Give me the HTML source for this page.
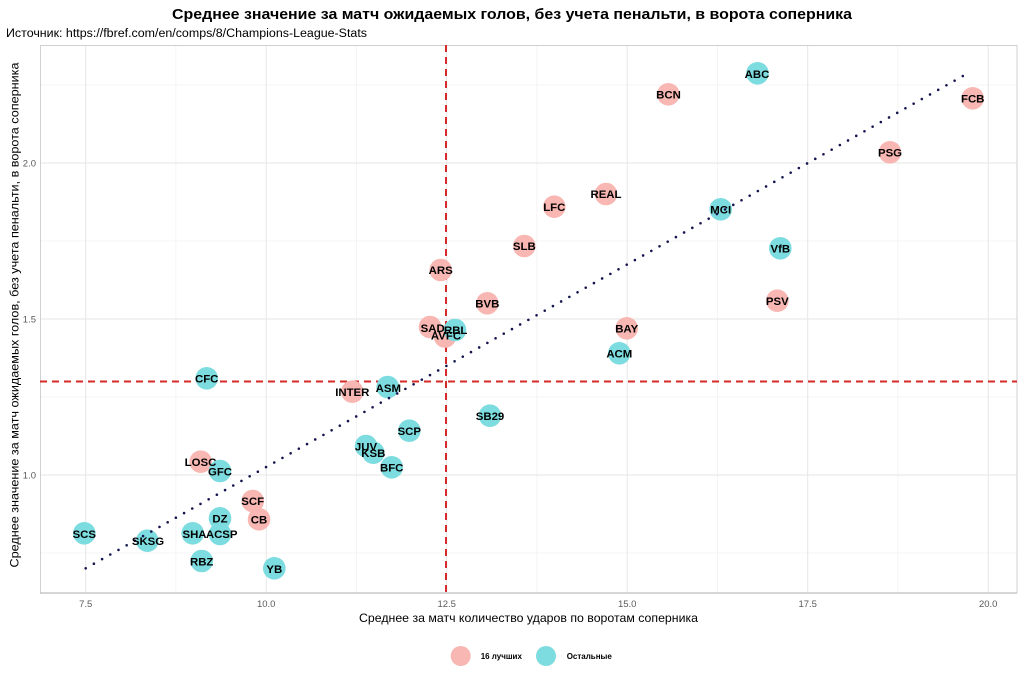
<!DOCTYPE html>
<html>
<head>
<meta charset="utf-8">
<style>
html,body{margin:0;padding:0;background:#fff;}
svg{display:block;}
text{font-family:"Liberation Sans",Arial,sans-serif;}
.lbl{font-size:11.4px;font-weight:bold;fill:#000;text-anchor:middle;}
.tick{font-size:9.5px;fill:#5a5a5a;}
</style>
</head>
<body>
<svg width="1024" height="683" viewBox="0 0 1024 683" xmlns="http://www.w3.org/2000/svg">
<rect width="1024" height="683" fill="#fff"/>
<!-- title -->
<text x="512" y="19" text-anchor="middle" font-size="14.5" font-weight="bold" textLength="680" lengthAdjust="spacingAndGlyphs">Среднее значение за матч ожидаемых голов, без учета пенальти, в ворота соперника</text>
<text x="6" y="37" font-size="11.5" fill="#000" textLength="361" lengthAdjust="spacingAndGlyphs">Источник: https://fbref.com/en/comps/8/Champions-League-Stats</text>

<!-- minor grid -->
<g stroke="#f2f2f2" stroke-width="0.8">
<line x1="175.9" y1="45" x2="175.9" y2="593"/>
<line x1="356.4" y1="45" x2="356.4" y2="593"/>
<line x1="536.9" y1="45" x2="536.9" y2="593"/>
<line x1="717.4" y1="45" x2="717.4" y2="593"/>
<line x1="897.9" y1="45" x2="897.9" y2="593"/>
<line x1="40" y1="553" x2="1017" y2="553"/>
<line x1="40" y1="397" x2="1017" y2="397"/>
<line x1="40" y1="241" x2="1017" y2="241"/>
<line x1="40" y1="85" x2="1017" y2="85"/>
</g>
<!-- major grid -->
<g stroke="#e6e6e6" stroke-width="1">
<line x1="85.7" y1="45" x2="85.7" y2="593"/>
<line x1="266.2" y1="45" x2="266.2" y2="593"/>
<line x1="446.7" y1="45" x2="446.7" y2="593"/>
<line x1="627.2" y1="45" x2="627.2" y2="593"/>
<line x1="807.7" y1="45" x2="807.7" y2="593"/>
<line x1="988.2" y1="45" x2="988.2" y2="593"/>
<line x1="40" y1="475" x2="1017" y2="475"/>
<line x1="40" y1="319" x2="1017" y2="319"/>
<line x1="40" y1="163" x2="1017" y2="163"/>
</g>
<!-- panel border -->
<rect x="40.5" y="45.5" width="976.5" height="547.5" fill="none" stroke="#d0d0d0" stroke-width="1"/>
<line x1="40" y1="593" x2="1017" y2="593" stroke="#bdbdbd" stroke-width="1.2"/>

<!-- red dashed lines -->
<g stroke="#d42a2a" stroke-width="2" stroke-dasharray="7 5" fill="none">
<line x1="40" y1="381.5" x2="1017" y2="381.5"/>
<line x1="446" y1="45" x2="446" y2="593"/>
</g>

<!-- points -->
<g>
<!-- pink -->
<g fill="#f8b7b2">
<circle cx="668.3" cy="94.3" r="11.3"/>
<circle cx="972.7" cy="98.3" r="11.3"/>
<circle cx="890" cy="152.3" r="11.3"/>
<circle cx="606" cy="194" r="11.3"/>
<circle cx="554.3" cy="206.7" r="11.3"/>
<circle cx="524.3" cy="246" r="11.3"/>
<circle cx="777.3" cy="300.7" r="11.3"/>
<circle cx="440.7" cy="270" r="11.3"/>
<circle cx="487.3" cy="303.3" r="11.3"/>
<circle cx="430" cy="327" r="11.3"/>
<circle cx="445" cy="336.5" r="11.3"/>
<circle cx="626.7" cy="328.3" r="11.3"/>
<circle cx="352.3" cy="391.7" r="11.3"/>
<circle cx="200.7" cy="461.7" r="11.3"/>
<circle cx="252.7" cy="501" r="11.3"/>
<circle cx="259" cy="519.3" r="11.3"/>
</g>
<!-- cyan -->
<g fill="#7ddcdf">
<circle cx="757.5" cy="73.3" r="11.3"/>
<circle cx="720.7" cy="209.3" r="11.3"/>
<circle cx="780.3" cy="248.3" r="11.3"/>
<circle cx="455" cy="330" r="11.3"/>
<circle cx="619.3" cy="353.3" r="11.3"/>
<circle cx="387.7" cy="387" r="11.3"/>
<circle cx="490" cy="415.7" r="11.3"/>
<circle cx="206.7" cy="378.3" r="11.3"/>
<circle cx="409.3" cy="430.7" r="11.3"/>
<circle cx="366" cy="446" r="11.3"/>
<circle cx="373.3" cy="452.7" r="11.3"/>
<circle cx="391.7" cy="467.3" r="11.3"/>
<circle cx="220" cy="471" r="11.3"/>
<circle cx="220" cy="518.3" r="11.3"/>
<circle cx="192.7" cy="533.3" r="11.3"/>
<circle cx="220" cy="534" r="11.3"/>
<circle cx="84.3" cy="533.3" r="11.3"/>
<circle cx="147.3" cy="540.7" r="11.3"/>
<circle cx="201.7" cy="561" r="11.3"/>
<circle cx="274.3" cy="568.3" r="11.3"/>
</g>
</g>

<!-- dotted trend line -->
<line x1="85.7" y1="568.3" x2="967.7" y2="73.3" stroke="#15154f" stroke-width="2.6" stroke-linecap="round" stroke-dasharray="0 9.4"/>

<!-- labels -->
<g class="lbl">
<text class="lbl" x="757" y="78">ABC</text>
<text class="lbl" x="668.5" y="98.5">BCN</text>
<text class="lbl" x="972.7" y="102.5">FCB</text>
<text class="lbl" x="890" y="156.5">PSG</text>
<text class="lbl" x="606" y="198">REAL</text>
<text class="lbl" x="554.3" y="211">LFC</text>
<text class="lbl" x="720.7" y="213.5">MCI</text>
<text class="lbl" x="524.3" y="250">SLB</text>
<text class="lbl" x="780.3" y="252.5">VfB</text>
<text class="lbl" x="777.3" y="305">PSV</text>
<text class="lbl" x="440.7" y="274">ARS</text>
<text class="lbl" x="487.3" y="307.5">BVB</text>
<text class="lbl" x="432.7" y="332">SAD</text>
<text class="lbl" x="455.7" y="334">RBL</text>
<text class="lbl" x="446" y="339.5">AVFC</text>
<text class="lbl" x="626.7" y="332.5">BAY</text>
<text class="lbl" x="619.3" y="357.5">ACM</text>
<text class="lbl" x="352.3" y="396">INTER</text>
<text class="lbl" x="388.3" y="392">ASM</text>
<text class="lbl" x="490" y="420">SB29</text>
<text class="lbl" x="206.7" y="382.5">CFC</text>
<text class="lbl" x="409.3" y="435">SCP</text>
<text class="lbl" x="366" y="450.5">JUV</text>
<text class="lbl" x="373.3" y="457">KSB</text>
<text class="lbl" x="391.7" y="471.5">BFC</text>
<text class="lbl" x="200.5" y="466">LOSC</text>
<text class="lbl" x="220" y="475.5">GFC</text>
<text class="lbl" x="252.7" y="505">SCF</text>
<text class="lbl" x="259" y="523.5">CB</text>
<text class="lbl" x="220" y="522.5">DZ</text>
<text class="lbl" x="194.5" y="538">SHA</text>
<text class="lbl" x="221.7" y="538">ACSP</text>
<text class="lbl" x="84.3" y="538">SCS</text>
<text class="lbl" x="148" y="545">SKSG</text>
<text class="lbl" x="201.7" y="565.5">RBZ</text>
<text class="lbl" x="274.3" y="573">YB</text>
</g>

<!-- x tick labels -->
<g class="tick">
<text x="85.7" y="607" text-anchor="middle">7.5</text>
<text x="266.2" y="607" text-anchor="middle">10.0</text>
<text x="446.7" y="607" text-anchor="middle">12.5</text>
<text x="627.2" y="607" text-anchor="middle">15.0</text>
<text x="807.7" y="607" text-anchor="middle">17.5</text>
<text x="988.2" y="607" text-anchor="middle">20.0</text>
</g>
<!-- y tick labels -->
<g class="tick">
<text x="36" y="478.5" text-anchor="end">1.0</text>
<text x="36" y="322.5" text-anchor="end">1.5</text>
<text x="36" y="166.5" text-anchor="end">2.0</text>
</g>

<!-- axis titles -->
<text x="528.5" y="622" text-anchor="middle" font-size="12" fill="#000" textLength="339" lengthAdjust="spacingAndGlyphs">Среднее за матч количество ударов по воротам соперника</text>
<text transform="translate(18.5,315) rotate(-90)" x="0" y="0" text-anchor="middle" font-size="12" fill="#000" textLength="505" lengthAdjust="spacingAndGlyphs">Среднее значение за матч ожидаемых голов, без учета пенальти, в ворота соперника</text>

<!-- legend -->
<circle cx="460.7" cy="656" r="10" fill="#f8b7b2"/>
<text x="480.7" y="659" font-size="8" font-weight="bold" fill="#000">16 лучших</text>
<circle cx="546" cy="656" r="10" fill="#7ddcdf"/>
<text x="566.7" y="659" font-size="8" font-weight="bold" fill="#000">Остальные</text>
</svg>
</body>
</html>
